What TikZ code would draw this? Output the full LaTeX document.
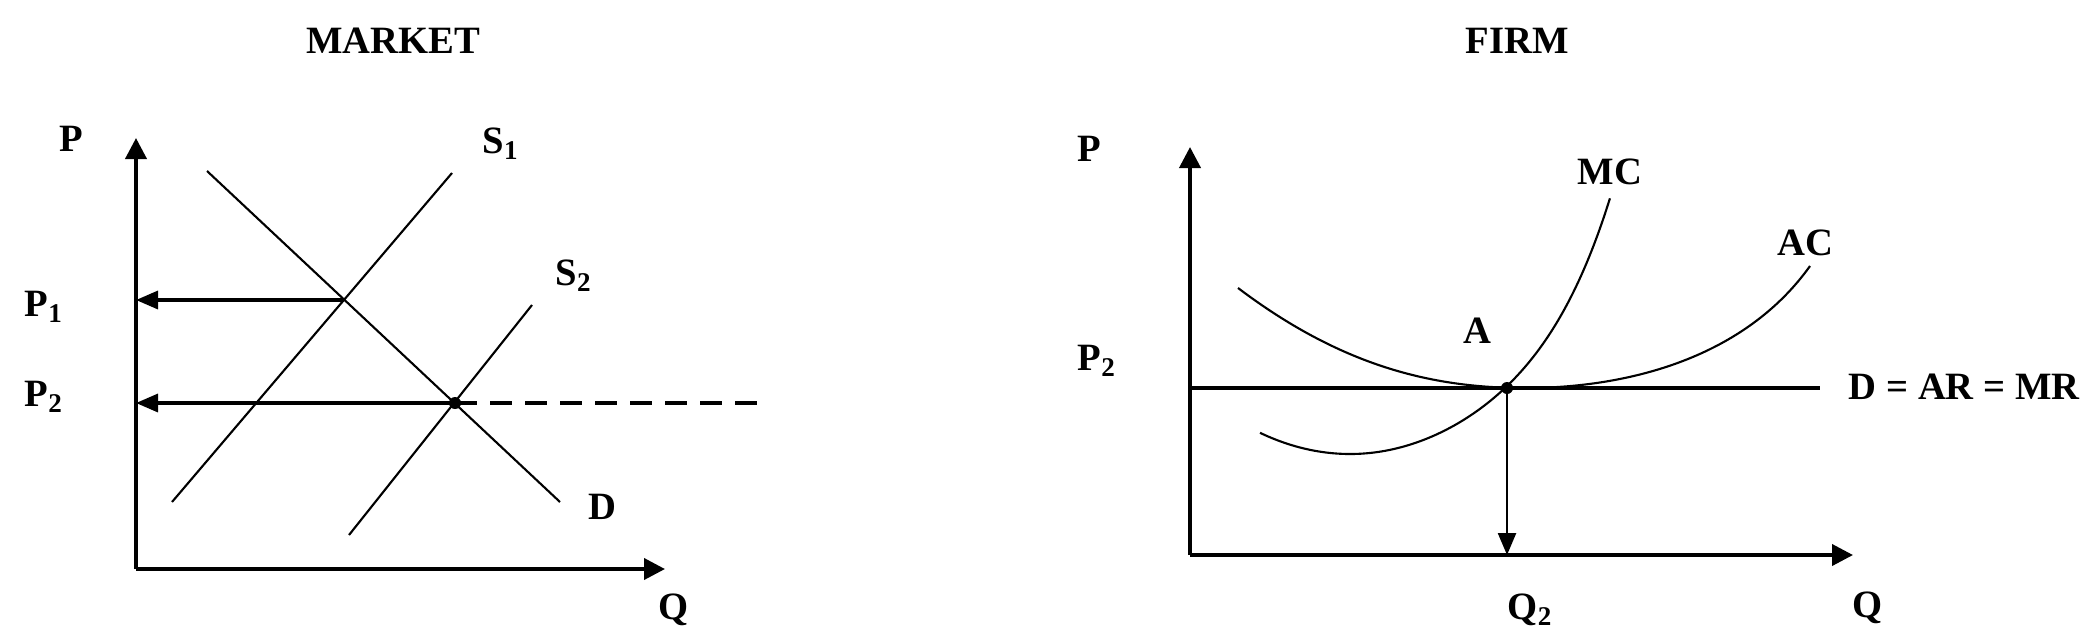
\documentclass[tikz,border=0pt]{standalone}
\usepackage{fontspec}
\setmainfont{Liberation Serif}
\usepackage{tikz}
\usetikzlibrary{arrows.meta}
\usetikzlibrary{positioning}

\tikzset{
  axis/.style={line width=1.1pt,-{Triangle[length=2.1mm,width=2.1mm]}},
  curve/.style={line width=0.6pt},
  level/.style={line width=0.95pt,-{Triangle[length=2.2mm,width=1.8mm]}},
  lbl/.style={font=\fontsize{11}{13}\selectfont\bfseries,inner sep=0pt}
}

\begin{document}
\begin{tikzpicture}
\useasboundingbox (0,0) rectangle (20.91,6.37);
% market
\node[lbl] (mkt) at (3.93,5.96) {MARKET};
\coordinate (O1) at (1.36,0.68);
\coordinate (Ptop1) at (1.36,4.99);
\coordinate (Qend1) at (6.65,0.68);
\draw[axis] (O1) -- (Ptop1);
\draw[axis] (O1) -- (Qend1);
\node[lbl] (P) at (0.71,4.98) {P};
\node[lbl] (Q) at (6.74,0.27) {Q};
\draw[curve] (1.72,1.35) -- (4.52,4.64) coordinate (S1top);
\draw[curve] (3.49,1.02) -- (5.32,3.32) coordinate (S2top);
\draw[curve] (2.07,4.66) -- (5.60,1.35) coordinate (Dend);
\node[lbl,anchor=west] (S1) at (4.82,4.93) {S\textsubscript{1}};
\node[lbl,anchor=west] (S2) at (5.55,3.61) {S\textsubscript{2}};
\node[lbl] (D) at (6.02,1.30) {D};
\coordinate (E1) at (3.43,3.37);
\coordinate (E2) at (4.55,2.34);
\coordinate (P1ax) at (1.36,3.37);
\coordinate (P2ax) at (1.36,2.34);
\coordinate (Dash) at (7.67,2.34);
\draw[level] (E1) -- (P1ax);
\draw[level] (E2) -- (P2ax);
\draw[line width=0.95pt,dash pattern=on 2.2mm off 1.3mm] (E2) -- (Dash);
\fill (E2) circle (0.06);
\node[lbl,anchor=west] (P1) at (0.24,3.30) {P\textsubscript{1}};
\node[lbl,anchor=west] (P2) at (0.24,2.40) {P\textsubscript{2}};
% firm
\node[lbl] (firm) at (15.17,5.96) {FIRM};
\coordinate (O2) at (11.90,0.82);
\coordinate (Ptop2) at (11.90,4.90);
\coordinate (Qend2) at (18.53,0.82);
\draw[axis] (O2) -- (Ptop2);
\draw[axis] (O2) -- (Qend2);
\node[lbl] (Pf) at (10.89,4.88) {P};
\node[lbl] (Qf) at (18.67,0.29) {Q};
\coordinate (A) at (15.07,2.49);
\coordinate (Dl) at (11.90,2.49);
\coordinate (Dr) at (18.20,2.49);
\coordinate (Q2ax) at (15.07,0.82);
\draw[line width=0.9pt] (Dl) -- (Dr);
\draw[curve] (12.38,3.49) .. controls (13.4,2.72) and (14.3,2.49) .. (15.25,2.49)
  .. controls (16.3,2.49) and (17.45,2.8) .. (18.10,3.71);
\draw[curve,domain=-0.9:2.60,samples=60,smooth]
  plot ({13.5+\x},{1.83+0.26*\x*\x+0.0026*(\x*\x)^3});
\draw[level,line width=0.7pt] (A) -- (Q2ax);
\fill (A) circle (0.06);
\node[lbl] (Alab) at (14.77,3.06) {A};
\node[lbl] (MC) at (16.10,4.65) {MC};
\node[lbl] (AC) at (18.05,3.94) {AC};
\node[lbl,anchor=west] (P2f) at (10.77,2.76) {P\textsubscript{2}};
\node[lbl,anchor=west] (Q2) at (15.07,0.27) {Q\textsubscript{2}};
\node[lbl,anchor=west] (DAR) at (18.48,2.50) {D = AR = MR};
\end{tikzpicture}
\end{document}
